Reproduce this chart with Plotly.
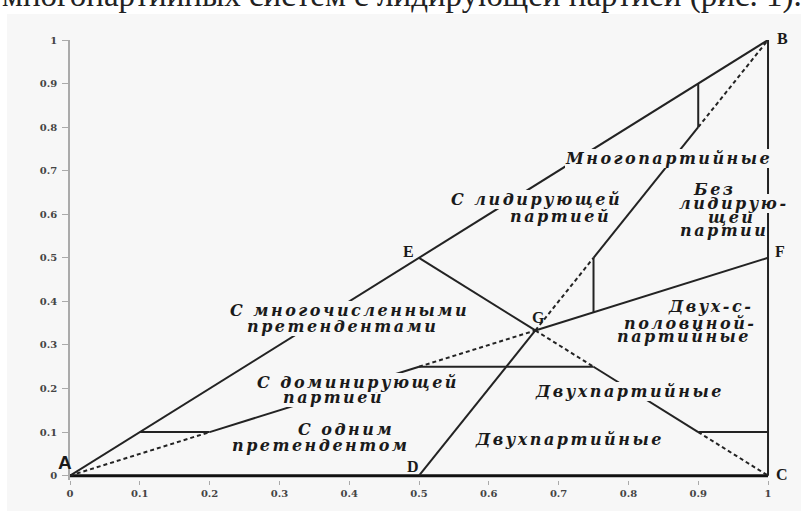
import plotly.graph_objects as go

# ---- data ----
point_names = ["A", "B", "C", "D", "E", "F", "G"]
point_x = [0.0, 1.0, 1.0, 0.5, 0.5, 1.0, 2 / 3]
point_y = [0.0, 1.0, 0.0, 0.0, 0.5, 0.5, 1 / 3]

# auxiliary nodes (unlabelled)
aux_names = ["P", "U", "V", "S", "T", "W", "H", "Q", "R", "K"]
aux_x = [0.1, 0.2, 0.5, 0.75, 0.9, 1.0, 0.9, 0.9, 0.75, 0.75]
aux_y = [0.1, 0.1, 0.25, 0.25, 0.1, 0.1, 0.9, 0.8, 0.5, 0.375]

# segments: (from, to, style)
segments = [
    ("A", "B", "solid"),
    ("A", "C", "base"),
    ("C", "B", "solid"),
    ("D", "G", "solid"), ("G", "R", "dash"), ("R", "Q", "solid"), ("Q", "B", "dash"),
    ("E", "G", "solid"), ("G", "S", "dash"), ("S", "T", "solid"), ("T", "C", "dash"),
    ("A", "U", "dash"), ("U", "V", "solid"), ("V", "G", "dash"),
    ("G", "F", "solid"),
    ("P", "U", "solid"),
    ("V", "S", "solid"),
    ("T", "W", "solid"),
    ("H", "Q", "solid"),
    ("R", "K", "solid"),
]

tick_vals = [0, 0.1, 0.2, 0.3, 0.4, 0.5, 0.6, 0.7, 0.8, 0.9, 1]
tick_text = ["0", "0.1", "0.2", "0.3", "0.4", "0.5", "0.6", "0.7", "0.8", "0.9", "1"]

# region labels listed bottom line first so upper lines are drawn on top
region_texts = ["Многопартийные",
                "партией", "С лидирующей",
                "партии", "щей", "лидирую-", "Без",
                "претендентами", "С многочисленными",
                "партией", "С доминирующей",
                "претендентом", "С одним",
                "Двухпартийные", "Двухпартийные",
                "партийные", "половиной-", "Двух-с-"]

header_text = "многопартийных систем с лидирующей партией (рис. 1)."

# ---- layout helpers (positions / styles) ----
region_pos = [(0.858, 0.727, True),
              (0.703, 0.594, False), (0.669, 0.633, True),
              (0.937, 0.562, False), (0.947, 0.592, False), (0.951, 0.624, True), (0.924, 0.656, False),
              (0.390, 0.342, True), (0.401, 0.378, True),
              (0.377, 0.179, True), (0.413, 0.213, True),
              (0.360, 0.069, False), (0.395, 0.106, False),
              (0.802, 0.193, True), (0.716, 0.083, False),
              (0.880, 0.319, False), (0.888, 0.349, False), (0.918, 0.388, False)]
label_shift = {"A": (-5, 13), "B": (14, 2), "C": (14, 1), "D": (-6, 9),
               "E": (-11, 6), "F": (12, 6), "G": (3, 13)}

nodes = {n: (x, y) for n, x, y in zip(point_names, point_x, point_y)}
nodes.update({n: (x, y) for n, x, y in zip(aux_names, aux_x, aux_y)})

LINE = "#232323"
BG = "#f7f7f7"

fig = go.Figure()
for a, b, style in segments:
    (x0, y0), (x1, y1) = nodes[a], nodes[b]
    if style == "dash":
        line = dict(color=LINE, width=2, dash="4px,3px")
    elif style == "base":
        line = dict(color="#111111", width=3)
    else:
        line = dict(color=LINE, width=2)
    fig.add_trace(go.Scatter(x=[x0, x1], y=[y0, y1], mode="lines", line=line,
                             hoverinfo="skip", showlegend=False))

annotations = []
for t, (x, y, bg) in zip(region_texts, region_pos):
    annotations.append(dict(x=x, y=y, xref="x", yref="y",
                            text='<span style="letter-spacing:2.5px">' + t + '</span>',
                            showarrow=False,
                            font=dict(family="DejaVu Serif", size=16, color="#1a1a1a",
                                      weight="bold", style="italic"),
                            bgcolor=BG if bg else None, borderpad=0, borderwidth=0))

for n in point_names:
    x, y = nodes[n]
    dx, dy = label_shift[n]
    fam = "Liberation Sans" if n == "A" else "Liberation Serif"
    size = 19 if n == "A" else 16
    annotations.append(dict(x=x, y=y, xref="x", yref="y", text=n, showarrow=False,
                            xshift=dx, yshift=dy,
                            font=dict(family=fam, size=size, color="#1a1a1a", weight="bold")))

annotations.append(dict(x=-0.0993, y=1.1022, xref="paper", yref="paper", text=header_text,
                        showarrow=False, xanchor="left", yanchor="middle",
                        font=dict(family="Liberation Serif", size=33, color="#222222")))

shapes = [
    dict(type="rect", xref="paper", yref="paper", x0=-0.2, x1=1.2, y0=1.059, y1=1.3,
         fillcolor="white", line=dict(width=0), layer="below"),
    dict(type="rect", xref="paper", yref="paper", x0=-0.2, x1=-0.0894, y0=-0.2, y1=1.3,
         fillcolor="white", line=dict(width=0), layer="below"),
    dict(type="rect", xref="paper", yref="paper", x0=1.0369, x1=1.2, y0=-0.2, y1=1.3,
         fillcolor="white", line=dict(width=0), layer="below"),
]

tickfont = dict(family="DejaVu Serif", size=10, color="#444444", weight="bold")
fig.update_layout(
    width=809, height=511,
    margin=dict(l=70, r=34, t=40, b=31),
    paper_bgcolor=BG, plot_bgcolor=BG,
    annotations=annotations, shapes=shapes,
    xaxis=dict(range=[0, 1.01], tickvals=tick_vals, ticktext=tick_text, showgrid=False,
               zeroline=False, showline=False, ticks="outside", ticklen=4, tickcolor="#aaaaaa",
               tickfont=tickfont, fixedrange=True),
    yaxis=dict(range=[-0.01, 1.0], tickvals=tick_vals, ticktext=tick_text, showgrid=False,
               zeroline=False, showline=True, linecolor="#aaaaaa", linewidth=1.5,
               ticks="outside", ticklen=6, tickcolor="#aaaaaa", ticklabelstandoff=3,
               tickfont=tickfont, fixedrange=True),
)

fig.write_html("out.html", config={"displayModeBar": False},
               post_script="document.body.style.margin='0';")
